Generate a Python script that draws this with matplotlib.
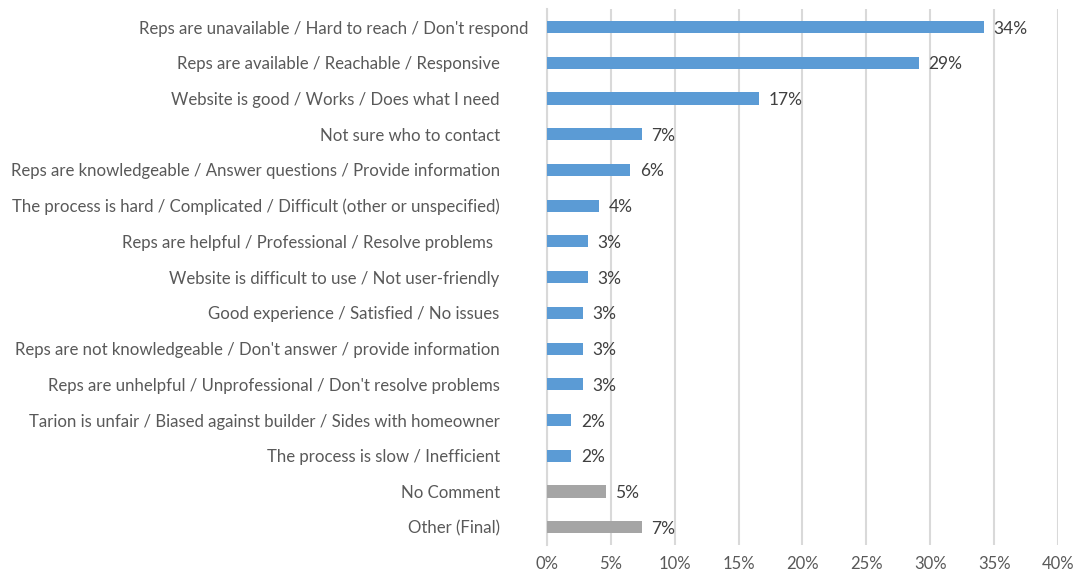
import matplotlib.pyplot as plt
from matplotlib.ticker import FuncFormatter
from matplotlib.transforms import ScaledTranslation

categories = [
    "Reps are unavailable / Hard to reach / Don't respond",
    "Reps are available / Reachable / Responsive",
    "Website is good / Works / Does what I need",
    "Not sure who to contact",
    "Reps are knowledgeable / Answer questions / Provide information",
    "The process is hard / Complicated / Difficult (other or unspecified)",
    "Reps are helpful / Professional / Resolve problems",
    "Website is difficult to use / Not user-friendly",
    "Good experience / Satisfied / No issues",
    "Reps are not knowledgeable / Don't answer / provide information",
    "Reps are unhelpful / Unprofessional / Don't resolve problems",
    "Tarion is unfair / Biased against builder / Sides with homeowner",
    "The process is slow / Inefficient",
    "No Comment",
    "Other (Final)",
]
values = [34.2, 29.1, 16.6, 7.4, 6.5, 4.1, 3.2, 3.2, 2.8, 2.8, 2.8, 1.9, 1.9, 4.6, 7.4]
is_other = [False] * 13 + [True, True]

BLUE = '#5b9bd5'
GREY = '#a5a5a5'
TEXT = '#595959'
GRID = '#d9d9d9'

plt.rcParams['font.family'] = ['Lato', 'DejaVu Sans']

fig = plt.figure(figsize=(10.75, 5.75), dpi=100)
ax = fig.add_axes([0.5088, 0.052, 0.4754, 0.932])

ypos = list(range(len(categories)))
colors = [GREY if o else BLUE for o in is_other]
ax.barh(ypos, values, height=0.34, color=colors, zorder=3)

for y, v in zip(ypos, values):
    ax.annotate(f"{round(v)}%", xy=(v, y), xytext=(7, 0), textcoords='offset points',
                va='center_baseline', ha='left', fontsize=12.5, color='#404040')

ax.set_xlim(0, 40)
ax.set_ylim(len(categories) - 0.5, -0.5)
ax.set_xticks(range(0, 41, 5))
ax.xaxis.set_major_formatter(FuncFormatter(lambda x, _: f"{int(x)}%"))
ax.set_yticks(ypos)
ax.set_yticklabels(categories)

ax.grid(axis='x', color=GRID, linewidth=1.5, zorder=0)
for s in ['top', 'right', 'bottom']:
    ax.spines[s].set_visible(False)
ax.spines['left'].set_color(GRID)
ax.spines['left'].set_linewidth(1.5)
ax.spines['left'].set_zorder(1)

ax.tick_params(axis='x', length=0, labelsize=12, labelcolor=TEXT, pad=8)
ax.tick_params(axis='y', length=0, labelsize=12.1, labelcolor=TEXT, pad=34)

# first label sits closer to the axis; helpful label slightly further out
labels = ax.get_yticklabels()
labels[0].set_transform(labels[0].get_transform() + ScaledTranslation(0.29, 0, fig.dpi_scale_trans))
labels[6].set_transform(labels[6].get_transform() + ScaledTranslation(-0.07, 0, fig.dpi_scale_trans))

fig.savefig('out.png', dpi=100)
